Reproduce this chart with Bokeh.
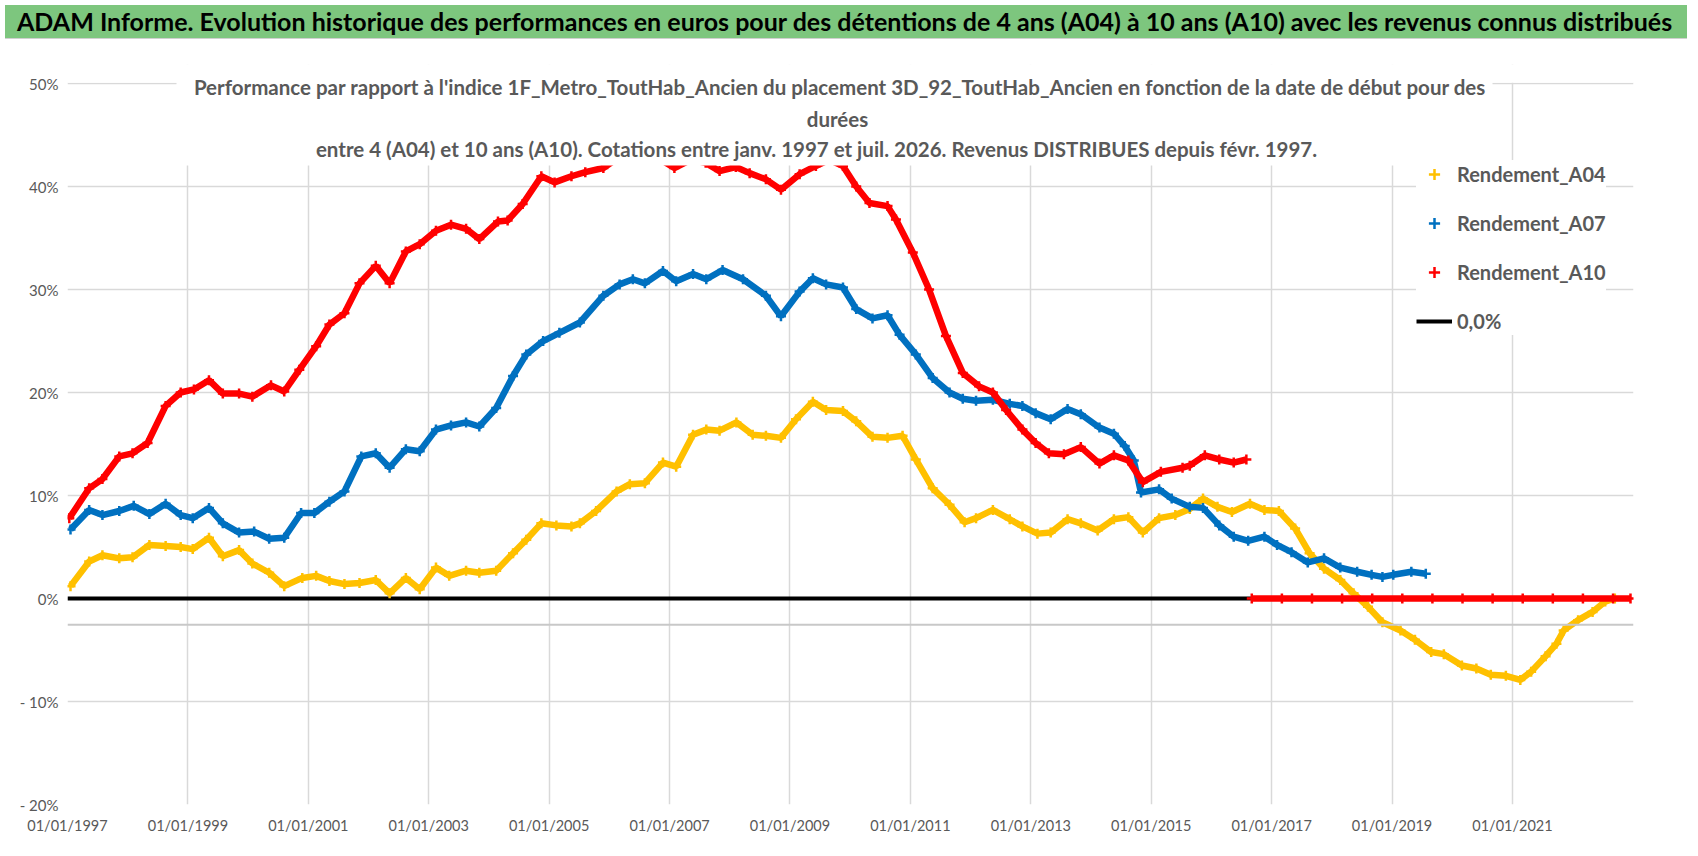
from bokeh.plotting import figure
from bokeh.models import (Div, Legend, LegendItem, Label, BoxAnnotation, Span,
                          FixedTicker)
from bokeh.layouts import column
from bokeh.embed import file_html
from bokeh.resources import INLINE

# ---------------- data ----------------
MAIN_TITLE = ("ADAM Informe. Evolution historique des performances en euros pour des "
              "détentions de 4 ans (A04) à 10 ans (A10) avec les revenus connus distribués")
SUBTITLE_LINES = [
    "Performance par rapport à l'indice 1F_Metro_ToutHab_Ancien  du placement 3D_92_ToutHab_Ancien en fonction de la date de début pour des",
    "durées",
    "entre 4 (A04) et 10 ans (A10). Cotations entre janv. 1997 et juil. 2026. Revenus DISTRIBUES depuis févr. 1997.",
]

TICK_YEARS = [1997, 1999, 2001, 2003, 2005, 2007, 2009, 2011, 2013, 2015, 2017, 2019, 2021]
TICK_LABELS = ["01/01/1997", "01/01/1999", "01/01/2001", "01/01/2003", "01/01/2005",
               "01/01/2007", "01/01/2009", "01/01/2011", "01/01/2013", "01/01/2015",
               "01/01/2017", "01/01/2019", "01/01/2021"]
Y_TICKS = [50, 40, 30, 20, 10, 0, -10, -20]
Y_LABELS = ["50%", "40%", "30%", "20%", "10%", "0%", "- 10%", "- 20%"]

SERIES_NAMES = ["Rendement_A04", "Rendement_A07", "Rendement_A10", "0,0%"]

A04_X = [1997.05, 1997.36, 1997.58, 1997.86, 1998.08, 1998.36, 1998.63, 1998.88, 1999.08,
         1999.35, 1999.58, 1999.85, 2000.07, 2000.35, 2000.60, 2000.90, 2001.13, 2001.35,
         2001.60, 2001.85, 2002.12, 2002.35, 2002.62, 2002.85, 2003.12, 2003.34, 2003.62,
         2003.84, 2004.12, 2004.40, 2004.62, 2004.87, 2005.12, 2005.37, 2005.51, 2005.78,
         2006.12, 2006.34, 2006.59, 2006.89, 2007.11, 2007.39, 2007.61, 2007.83, 2008.11,
         2008.38, 2008.60, 2008.85, 2009.10, 2009.38, 2009.60, 2009.88, 2010.10, 2010.37,
         2010.62, 2010.87, 2011.09, 2011.37, 2011.65, 2011.90, 2012.09, 2012.37, 2012.65,
         2012.86, 2013.11, 2013.33, 2013.61, 2013.83, 2014.11, 2014.38, 2014.62, 2014.86,
         2015.13, 2015.40, 2015.64, 2015.86, 2016.10, 2016.34, 2016.64, 2016.88, 2017.12,
         2017.39, 2017.63, 2017.87, 2018.14, 2018.36, 2018.60, 2018.84, 2019.14, 2019.38,
         2019.65, 2019.86, 2020.16, 2020.40, 2020.64, 2020.89, 2021.13, 2021.31, 2021.55,
         2021.73, 2021.85, 2022.09, 2022.33, 2022.54, 2022.70]
A04_Y = [1.2, 3.6, 4.2, 3.9, 4.0, 5.2, 5.1, 5.0, 4.8,
         5.9, 4.1, 4.7, 3.4, 2.5, 1.2, 2.0, 2.2, 1.7,
         1.4, 1.5, 1.8, 0.5, 2.0, 0.9, 3.0, 2.2, 2.7,
         2.5, 2.7, 4.4, 5.7, 7.3, 7.1, 7.0, 7.3, 8.5,
         10.4, 11.1, 11.2, 13.2, 12.8, 15.9, 16.4, 16.3, 17.1,
         15.9, 15.8, 15.6, 17.4, 19.1, 18.3, 18.2, 17.2, 15.7,
         15.6, 15.8, 13.5, 10.7, 9.1, 7.4, 7.8, 8.6, 7.7,
         7.0, 6.3, 6.4, 7.7, 7.3, 6.6, 7.7, 7.9, 6.4,
         7.8, 8.1, 8.7, 9.7, 8.9, 8.4, 9.2, 8.6, 8.5,
         6.8, 4.4, 2.9, 1.8, 0.5, -0.8, -2.3, -3.1, -4.0,
         -5.2, -5.4, -6.5, -6.8, -7.4, -7.5, -7.9, -7.1, -5.6,
         -4.4, -3.1, -2.1, -1.3, -0.3, 0.0]

A07_X = [1997.05, 1997.36, 1997.58, 1997.86, 1998.10, 1998.36, 1998.63, 1998.88, 1999.08,
         1999.35, 1999.58, 1999.85, 2000.10, 2000.35, 2000.60, 2000.88, 2001.10, 2001.35,
         2001.60, 2001.88, 2002.12, 2002.35, 2002.62, 2002.85, 2003.12, 2003.37, 2003.62,
         2003.84, 2004.12, 2004.40, 2004.62, 2004.90, 2005.17, 2005.51, 2005.90, 2006.17,
         2006.39, 2006.59, 2006.89, 2007.11, 2007.39, 2007.61, 2007.88, 2008.22, 2008.60,
         2008.85, 2009.16, 2009.38, 2009.60, 2009.88, 2010.10, 2010.37, 2010.62, 2010.82,
         2011.09, 2011.37, 2011.65, 2011.87, 2012.09, 2012.37, 2012.65, 2012.86, 2013.08,
         2013.33, 2013.61, 2013.83, 2014.14, 2014.38, 2014.56, 2014.71, 2014.83, 2015.13,
         2015.34, 2015.64, 2015.86, 2016.13, 2016.37, 2016.61, 2016.88, 2017.09, 2017.33,
         2017.60, 2017.87, 2018.14, 2018.42, 2018.66, 2018.84, 2019.02, 2019.32, 2019.56]
A07_Y = [6.7, 8.6, 8.1, 8.5, 9.0, 8.2, 9.2, 8.1, 7.8,
         8.8, 7.3, 6.4, 6.5, 5.8, 5.9, 8.3, 8.3, 9.4,
         10.4, 13.8, 14.1, 12.7, 14.5, 14.3, 16.4, 16.8, 17.1,
         16.7, 18.5, 21.6, 23.7, 25.0, 25.8, 26.8, 29.4, 30.5,
         31.0, 30.6, 31.8, 30.8, 31.5, 31.0, 31.9, 31.0, 29.4,
         27.4, 29.8, 31.1, 30.5, 30.2, 28.1, 27.2, 27.5, 25.6,
         23.7, 21.4, 20.0, 19.4, 19.2, 19.3, 18.9, 18.7, 18.0,
         17.4, 18.4, 17.9, 16.6, 16.0, 14.8, 13.4, 10.3, 10.6,
         9.7, 8.9, 8.8, 7.1, 6.0, 5.6, 6.0, 5.2, 4.5,
         3.5, 3.9, 3.0, 2.6, 2.3, 2.1, 2.3, 2.6, 2.4]

A10_X = [1997.03, 1997.36, 1997.58, 1997.86, 1998.08, 1998.33, 1998.63, 1998.88, 1999.10,
         1999.35, 1999.58, 1999.85, 2000.07, 2000.38, 2000.60, 2000.85, 2001.13, 2001.35,
         2001.60, 2001.85, 2002.12, 2002.35, 2002.62, 2002.85, 2003.12, 2003.37, 2003.62,
         2003.84, 2004.15, 2004.31, 2004.56, 2004.87, 2005.09, 2005.37, 2005.60, 2005.90,
         2006.20, 2006.50, 2006.80, 2007.08, 2007.35, 2007.60, 2007.83, 2008.10, 2008.33,
         2008.60, 2008.85, 2009.16, 2009.43, 2009.65, 2009.88, 2010.10, 2010.32, 2010.62,
         2010.76, 2011.04, 2011.31, 2011.59, 2011.87, 2012.14, 2012.37, 2012.59, 2012.86,
         2013.08, 2013.30, 2013.55, 2013.83, 2014.14, 2014.38, 2014.62, 2014.86, 2015.16,
         2015.52, 2015.64, 2015.89, 2016.13, 2016.37, 2016.58]
A10_Y = [7.8, 10.7, 11.6, 13.8, 14.1, 15.1, 18.7, 20.0, 20.3,
         21.2, 19.9, 19.9, 19.6, 20.7, 20.1, 22.2, 24.5, 26.6,
         27.7, 30.6, 32.3, 30.6, 33.7, 34.4, 35.7, 36.3, 35.9,
         34.9, 36.6, 36.7, 38.3, 41.0, 40.4, 41.0, 41.4, 41.8,
         43.0, 43.8, 42.8, 41.8, 42.6, 42.3, 41.5, 41.9, 41.3,
         40.7, 39.7, 41.2, 42.0, 42.6, 42.0, 40.0, 38.4, 38.1,
         36.8, 33.6, 30.0, 25.5, 21.9, 20.6, 20.0, 18.3, 16.4,
         15.1, 14.1, 14.0, 14.7, 13.1, 13.9, 13.4, 11.3, 12.3,
         12.7, 12.9, 13.9, 13.5, 13.2, 13.5]
# A10 values at 0 after mid-2016 (plotted as a separate run: no joining segment)
A10_TAIL_X = [2016.67, 2017.17, 2017.67, 2018.17, 2018.67, 2019.17, 2019.67, 2020.17,
              2020.67, 2021.17, 2021.67, 2022.17, 2022.67, 2022.96]
A10_TAIL_Y = [0.0, 0.0, 0.0, 0.0, 0.0, 0.0, 0.0, 0.0, 0.0, 0.0, 0.0, 0.0, 0.0, 0.0]

ZERO_X = [1997.0, 2022.96]
ZERO_Y = [0.0, 0.0]

COLORS = ["#FFC000", "#0070C0", "#FF0000", "#000000"]
FONT = "Lato"
GREY_TXT = "#595959"
GRID = "#d9d9d9"
AXIS_CROSS = -2.55
Y_TOP_VISIBLE = 50          # last gridline; the strip above it is the title area
Y_HEADROOM = 51.85          # frame extends a little above 50% so the title is not clipped

# ---------------- header ----------------
header = Div(text=MAIN_TITLE, width=1682, height=34,
             styles={"background-color": "#7dc67e", "font-family": FONT,
                     "font-weight": "bold", "font-size": "25px", "color": "#000000",
                     "padding-left": "12px", "line-height": "33px",
                     "white-space": "nowrap", "box-sizing": "border-box",
                     "border-bottom": "1px solid #d0d0d0", "overflow": "hidden"})

# ---------------- figure ----------------
p = figure(width=1682, height=806, x_range=(1997, 2023.01), y_range=(-20, Y_HEADROOM),
           output_backend="svg", toolbar_location=None,
           min_border_left=67, min_border_right=49, min_border_top=20,
           min_border_bottom=46)
p.outline_line_color = None
p.background_fill_color = "white"
p.border_fill_color = "white"

p.xaxis.ticker = FixedTicker(ticks=TICK_YEARS)
p.xaxis.major_label_overrides = {y: l for y, l in zip(TICK_YEARS, TICK_LABELS)}
p.yaxis.ticker = FixedTicker(ticks=Y_TICKS)
p.yaxis.major_label_overrides = {v: l for v, l in zip(Y_TICKS, Y_LABELS)}
for ax in (p.xaxis, p.yaxis):
    ax.axis_line_color = None
    ax.major_tick_line_color = None
    ax.minor_tick_line_color = None
    ax.major_tick_out = 0
    ax.major_tick_in = 0
    ax.major_label_text_font = FONT
    ax.major_label_text_color = GREY_TXT
p.xaxis.major_label_text_font_size = "14.5px"
p.yaxis.major_label_text_font_size = "15px"
p.xaxis.major_label_standoff = 12
p.yaxis.major_label_standoff = 9

p.xgrid.ticker = FixedTicker(ticks=TICK_YEARS)
p.ygrid.ticker = FixedTicker(ticks=Y_TICKS)
for g in (p.xgrid, p.ygrid):
    g.grid_line_color = GRID
    g.grid_line_width = 1.5

# horizontal category axis line (crosses slightly below zero)
p.add_layout(Span(location=AXIS_CROSS, dimension="width", line_color="#c8c8c8",
                  line_width=2))

zero_r = p.line(ZERO_X, ZERO_Y, line_color=COLORS[3], line_width=4)

marker_rs = []
for xs, ys, col in ((A04_X, A04_Y, COLORS[0]), (A07_X, A07_Y, COLORS[1]),
                    (A10_X, A10_Y, COLORS[2])):
    p.line(xs, ys, line_color=col, line_width=6.5)
    r = p.scatter(xs, ys, marker="cross", size=10, line_width=2.5, line_color=col)
    marker_rs.append(r)
p.line(A10_TAIL_X, A10_TAIL_Y, line_color=COLORS[2], line_width=6.5)
p.scatter(A10_TAIL_X, A10_TAIL_Y, marker="cross", size=10, line_width=2.5,
          line_color=COLORS[2])

# blank strip above the 50% gridline (hides vertical gridlines there)
p.add_layout(BoxAnnotation(bottom=Y_TOP_VISIBLE + 0.08, fill_color="white",
                           fill_alpha=1.0, line_color=None))
# white box of the chart title, laid over the top of the plot area
p.add_layout(BoxAnnotation(left=109, right=1425, bottom=639, top=800,
                           left_units="screen", right_units="screen",
                           bottom_units="screen", top_units="screen",
                           fill_color="white", fill_alpha=1.0, line_color=None))

SUB_POS = [(775, 718), (770, 686), (749, 656)]
for txt, (sx, sy) in zip(SUBTITLE_LINES, SUB_POS):
    p.add_layout(Label(x=sx, y=sy, x_units="screen", y_units="screen", text=txt,
                       text_align="center", text_baseline="middle",
                       text_font=FONT, text_font_size="20.5px",
                       text_font_style="bold", text_color=GREY_TXT))

legend = Legend(items=[LegendItem(label=SERIES_NAMES[0], renderers=[marker_rs[0]]),
                       LegendItem(label=SERIES_NAMES[1], renderers=[marker_rs[1]]),
                       LegendItem(label=SERIES_NAMES[2], renderers=[marker_rs[2]]),
                       LegendItem(label=SERIES_NAMES[3], renderers=[zero_r])],
                location=(1349, 469), orientation="vertical",
                padding=33, spacing=21, label_height=28, glyph_height=28,
                glyph_width=36, label_standoff=5,
                label_text_font=FONT, label_text_font_size="20px",
                label_text_font_style="bold", label_text_color=GREY_TXT,
                background_fill_color="white", background_fill_alpha=1.0,
                border_line_color=None)
p.add_layout(legend)

layout = column(header, p, spacing=0)
open("out.html", "w").write(file_html(layout, INLINE))
